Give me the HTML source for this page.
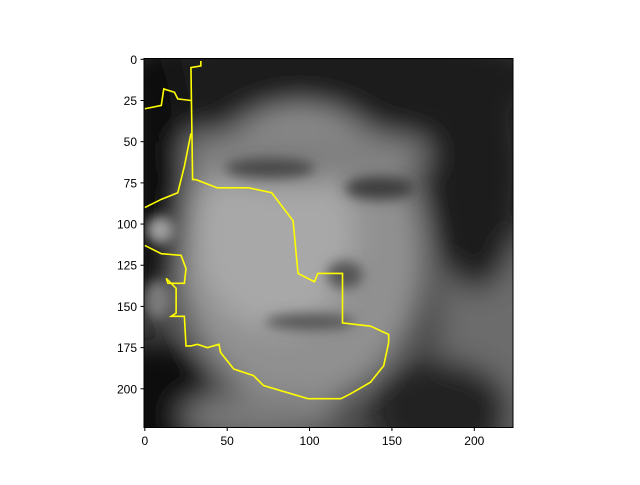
<!DOCTYPE html>
<html><head><meta charset="utf-8"><style>
body{margin:0;background:#fff;}
svg text{font-family:"Liberation Sans",sans-serif;font-size:12px;fill:#000;}
</style></head><body>
<svg width="640" height="480">
<defs>
<clipPath id="clip"><rect x="144" y="58.5" width="369" height="369"/></clipPath>
<filter id="b" x="-50%" y="-50%" width="200%" height="200%"><feGaussianBlur stdDeviation="14"/></filter>
<filter id="b2" x="-50%" y="-50%" width="200%" height="200%"><feGaussianBlur stdDeviation="6"/></filter>
</defs>
<g clip-path="url(#clip)">
<rect x="100" y="20" width="450" height="450" fill="#4a4a4a"/>
<g filter="url(#b)">
<rect x="440" y="240" width="100" height="200" fill="#6c6c6c"/>
<ellipse cx="330" cy="80" rx="220" ry="60" fill="#1e1e1e"/>
<ellipse cx="475" cy="170" rx="50" ry="120" fill="#1c1c1c"/>
<ellipse cx="300" cy="255" rx="125" ry="150" fill="#909090"/>
<ellipse cx="275" cy="235" rx="80" ry="95" fill="#a8a8a8"/>
<ellipse cx="300" cy="155" rx="130" ry="28" fill="#808080"/>
<ellipse cx="155" cy="180" rx="30" ry="140" fill="#0a0a0a"/>
<ellipse cx="155" cy="400" rx="60" ry="60" fill="#0e0e0e"/>
<ellipse cx="440" cy="410" rx="70" ry="50" fill="#222"/>
<ellipse cx="260" cy="415" rx="80" ry="22" fill="#7a7a7a"/>
</g>
<g filter="url(#b2)">
<ellipse cx="270" cy="168" rx="45" ry="10" fill="#4a4a4a"/>
<ellipse cx="380" cy="188" rx="35" ry="12" fill="#404040"/>
<ellipse cx="310" cy="322" rx="45" ry="8" fill="#555"/>
<ellipse cx="345" cy="275" rx="18" ry="14" fill="#555"/>
<ellipse cx="160" cy="230" rx="14" ry="14" fill="#a0a0a0"/>
<ellipse cx="158" cy="300" rx="14" ry="20" fill="#7a7a7a"/>
</g>
<g id="contours"></g>
</g>
<rect x="144" y="58.5" width="369" height="369" fill="none" stroke="#000" stroke-width="1"/>
<g id="axes"></g>
</svg>
<script>
const xTicks=[0,50,100,150,200];
const yTicks=[0,25,50,75,100,125,150,175,200];
const mainX=[34,34,28,29,31,44,63,77,90,93,103,105,120,120,137,148,148,145,137,125,119,99,72,66,54,46,45,38,32,28,25,24,16,19,19,13,14,24,25,22,10,0];
const mainY=[1,4,5,73,73,78,78,81,98,130,135,130,130,160,162,167,172,186,196,203,206,206,198,192,188,178,173,175,173,174,174,156,156,154,139,133,136,136,127,119,118,113];
const leftX=[28,24,20,10,0];
const leftY=[45,65,81,85,90];
const upX=[0,10,11.5,18,20,28];
const upY=[30,28,18,20,24,25];
const X0=144,Y0=58.5,S=369/224;
const sx=v=>X0+(v+0.5)*S, sy=v=>Y0+(v+0.5)*S;
const NS='http://www.w3.org/2000/svg';
const cg=document.getElementById('contours');
function line(xs,ys,name){
  const p=document.createElementNS(NS,'polyline');
  p.setAttribute('points',xs.map((x,i)=>sx(x)+','+sy(ys[i])).join(' '));
  p.setAttribute('fill','none');p.setAttribute('stroke','#ffff00');p.setAttribute('stroke-width','1.6');
  
  
  cg.appendChild(p);
}
line(mainX,mainY,'contour-main');
line(leftX,leftY,'contour-left');
line(upX,upY,'contour-upper');
const ax=document.getElementById('axes');
xTicks.forEach(t=>{
  const x=sx(t);
  const l=document.createElementNS(NS,'line');
  l.setAttribute('x1',x);l.setAttribute('x2',x);l.setAttribute('y1',427.5);l.setAttribute('y2',431);l.setAttribute('stroke','#000');
  
  
  ax.appendChild(l);
  const tx=document.createElementNS(NS,'text');
  tx.setAttribute('x',x);tx.setAttribute('y',445);tx.setAttribute('text-anchor','middle');tx.textContent=t;
  
  
  ax.appendChild(tx);
});
yTicks.forEach(t=>{
  const y=sy(t);
  const l=document.createElementNS(NS,'line');
  l.setAttribute('x1',140.5);l.setAttribute('x2',144);l.setAttribute('y1',y);l.setAttribute('y2',y);l.setAttribute('stroke','#000');
  
  
  ax.appendChild(l);
  const tx=document.createElementNS(NS,'text');
  tx.setAttribute('x',137);tx.setAttribute('y',y+4.5);tx.setAttribute('text-anchor','end');tx.textContent=t;
  
  
  ax.appendChild(tx);
});
</script>
</body></html>
